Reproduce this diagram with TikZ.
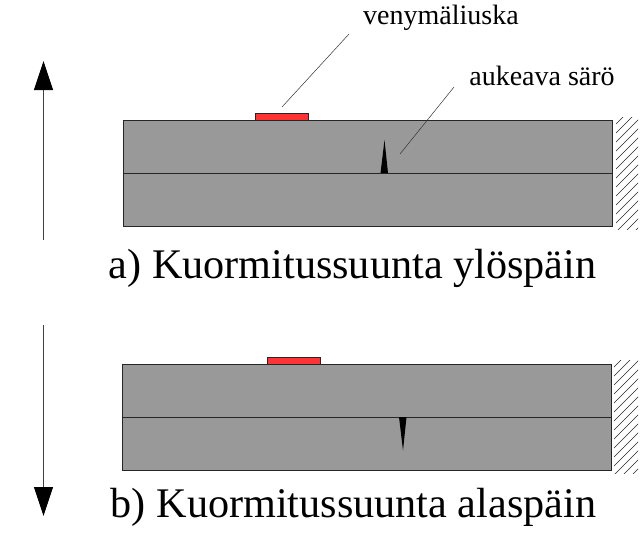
\documentclass[tikz,border=0pt]{standalone}
\usepackage{fontspec}
\setmainfont{Liberation Serif}
\usetikzlibrary{arrows.meta}
\definecolor{beamgray}{RGB}{153,153,153}
\definecolor{gaugered}{RGB}{255,51,51}

\begin{document}
\begin{tikzpicture}[x=1pt, y=-1pt,
    beam/.style={draw=black!85, fill=beamgray, line width=1pt, inner sep=0pt, minimum width=489pt, minimum height=106pt},
    gauge/.style={draw=black!85, fill=gaugered, line width=0.8pt, inner sep=0pt, minimum width=53pt, minimum height=7pt},
    load/.style={-{Triangle[width=19pt, length=29pt, black]}, black!75, line width=0.8pt},
    leader/.style={black!80, line width=0.5pt},
    hatch/.style={black!85, line width=0.6pt},
    caption/.style={font=\fontsize{42.2}{42.2}\selectfont, inner sep=0pt, anchor=base},
    small/.style={font=\fontsize{28}{28}\selectfont, inner sep=0pt, anchor=base}]
  \useasboundingbox (0,0) rectangle (644,555);

  % a) upper beam
  \node[beam] (beamA) at (367.5,173) {};
  \node[gauge] (gaugeA) at (281.5,116.5) {};
  \draw[black!85, line width=1pt] (beamA.west) -- (beamA.east);
  \fill[black] (380.5,173) -- (384.5,140) -- (388,173) -- cycle;

  \begin{scope}
    \clip (616,117) rectangle (638,229);
    \foreach \y in {126,135,...,261}
      \draw[hatch] (614,\y) -- (640,\y-26);
  \end{scope}

  \coordinate (loadAstart) at (43.5,240);
  \coordinate (loadAend) at (43.5,61);
  \draw[load] (loadAstart) -- (loadAend);

  \node[small] (gaugeLabel) at (441,24) {venymäliuska};
  \node[small] (crackLabel) at (542,85) {aukeava särö};
  \coordinate (gaugeTop) at (349,34);
  \coordinate (gaugeEnd) at (282,107);
  \coordinate (crackTop) at (454,87);
  \coordinate (crackEnd) at (400,154);
  \draw[leader] (gaugeTop) -- (gaugeEnd);
  \draw[leader] (crackTop) -- (crackEnd);

  \node[caption] (captionA) at (352.5,278) {a) Kuormitussuunta ylöspäin};

  % b) lower beam
  \node[beam] (beamB) at (366.5,417) {};
  \node[gauge] (gaugeB) at (293.5,360.5) {};
  \draw[black!85, line width=1pt] (beamB.west) -- (beamB.east);
  \fill[black] (399,417) -- (403,450.5) -- (406.5,417) -- cycle;

  \begin{scope}
    \clip (614,360) rectangle (638,473);
    \foreach \y in {369,378,...,504}
      \draw[hatch] (612,\y) -- (640,\y-28);
  \end{scope}

  \coordinate (loadBstart) at (43.5,325);
  \coordinate (loadBend) at (43.5,516);
  \draw[load] (loadBstart) -- (loadBend);

  \node[caption] (captionB) at (353.5,517) {b) Kuormitussuunta alaspäin};
\end{tikzpicture}
\end{document}
